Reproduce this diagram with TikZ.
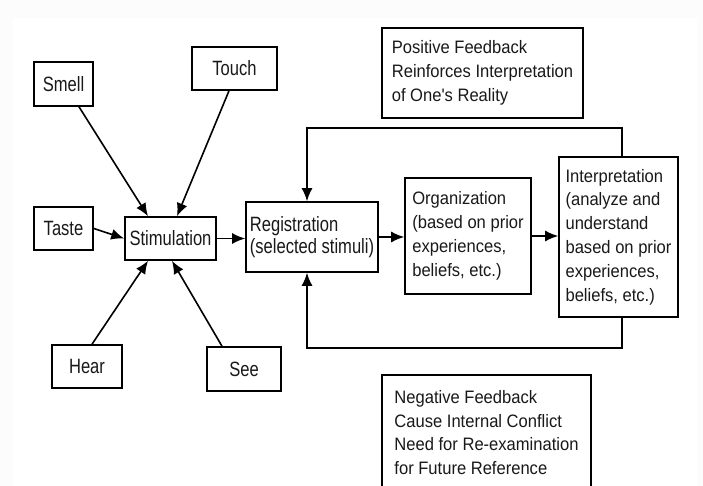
\documentclass[tikz,border=0pt]{standalone}
\usepackage{fontspec}
\setmainfont{Liberation Sans}
\newfontfamily\tallfont[FakeStretch=0.8]{Liberation Sans}
\newfontfamily\midfont[FakeStretch=0.92]{Liberation Sans}
\usetikzlibrary{arrows.meta}
\definecolor{txt}{RGB}{25,25,25}
\definecolor{edge}{RGB}{252,252,252}
\begin{document}
\begin{tikzpicture}[x=1pt,y=-1pt,
  box/.style={draw, line width=1.6pt, rectangle, inner sep=0pt, align=left, text=txt},
  tall/.style={box, font=\tallfont\fontsize{20.7}{22.5}\selectfont},
  mid/.style={box, font=\midfont\fontsize{18}{23.8}\selectfont},
  arr/.style={line width=1.6pt, -{Latex[length=13pt,width=11pt]}},
  plain/.style={line width=1.6pt}]
\useasboundingbox (0,0) rectangle (703,486);
\fill[edge] (0,0) rectangle (703,486);
\fill[white] (13,18) rectangle (697,486);

% sense boxes
\node[tall, minimum width=59, minimum height=44] (smell) at (63.5,84) {Smell};
\node[tall, minimum width=85, minimum height=43] (touch) at (234.5,68.5) {Touch};
\node[tall, minimum width=59, minimum height=43] (taste) at (63.5,228.5) {Taste};
\node[tall, minimum width=70, minimum height=43] (hear) at (87,366.5) {Hear};
\node[tall, minimum width=74, minimum height=44] (see) at (244,369) {See};

% main chain
\node[tall, minimum width=91, minimum height=43] (stim) at (170.5,238.5) {Stimulation};
\node[tall, minimum width=132, minimum height=70] (reg) at (312,237) {Registration\\(selected stimuli)};
\node[mid, minimum width=126, minimum height=116] (org) at (468,236) {Organization\\(based on prior\\experiences,\\beliefs, etc.)};
\node[mid, minimum width=119, minimum height=160] (interp) at (618.5,237) {Interpretation\\(analyze and\\understand\\based on prior\\experiences,\\beliefs, etc.)};

% feedback notes
\node[mid, minimum width=201, minimum height=90] (pos) at (482.5,73) {Positive Feedback\\Reinforces Interpretation\\of One's Reality};
\node[mid, draw=none, anchor=north, minimum width=207, inner ysep=14.5pt] (neg) at (486.5,375) {Negative Feedback\\Cause Internal Conflict\\Need for Re-examination\\for Future Reference};
\coordinate (bot) at (0,488);
\draw[plain] (neg.north west |- bot) -- (neg.north west) -- (neg.north east) -- (neg.north east |- bot);

% arrows into stimulation
\draw[arr] ([xshift=15.5pt]smell.south) -- ([xshift=-22.5pt]stim.north);
\draw[arr] ([xshift=-5.5pt]touch.south) -- ([xshift=6.5pt]stim.north);
\draw[arr] (taste.east) -- (stim.west);
\draw[arr] ([xshift=5pt]hear.north) -- ([xshift=-22.5pt]stim.south);
\draw[arr] ([xshift=-22pt]see.north) -- ([xshift=1.5pt]stim.south);

% chain arrows
\draw[arr] (stim.east) -- (stim.east -| reg.west);
\draw[arr] (reg.east) -- (reg.east -| org.west);
\draw[arr] (org.east) -- (org.east -| interp.west);

% feedback loops
\draw[arr] ([xshift=3.5pt]interp.north) -- ++(0,-28) -| ([xshift=-5pt]reg.north);
\draw[arr] ([xshift=3.5pt]interp.south) -- ++(0,30) -| ([xshift=-5pt]reg.south);
\end{tikzpicture}
\end{document}
